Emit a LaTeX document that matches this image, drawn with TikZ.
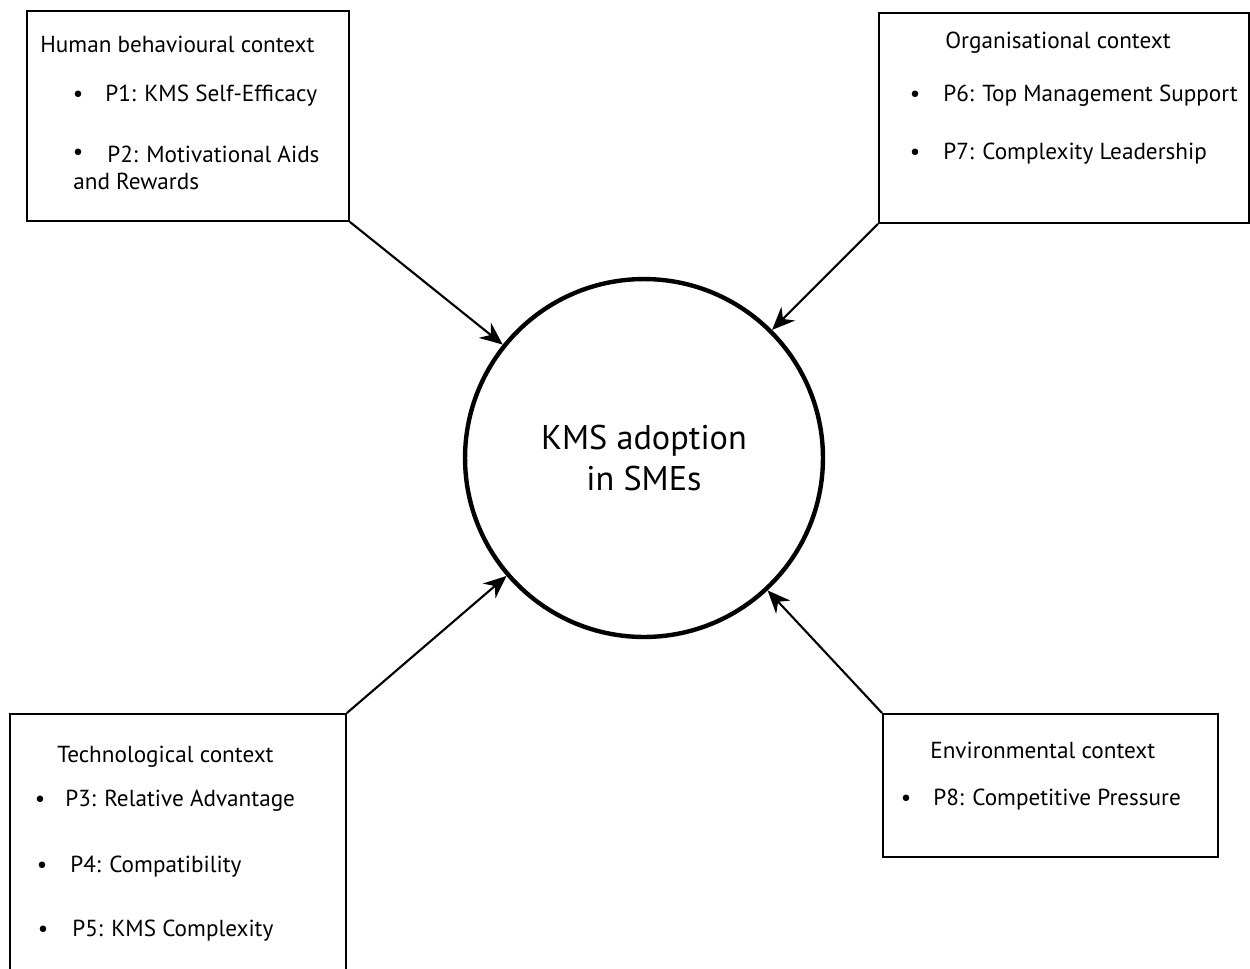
\documentclass[tikz,border=0pt]{standalone}
\usepackage{fontspec}
\setmainfont{PT Sans}
\usetikzlibrary{arrows.meta, positioning}

\tikzset{
  ctxbox/.style={draw, line width=1.1pt, rectangle, inner sep=0pt, anchor=north west},
  ctxtext/.style={anchor=west, inner sep=0pt, font=\fontsize{13.2}{16}\selectfont},
  ctxbullet/.style={anchor=center, inner sep=0pt, font=\fontsize{13.2}{16}\selectfont},
  flow/.style={line width=1.2pt, -{Stealth[length=13pt, width=11pt]}}
}

\begin{document}
\begin{tikzpicture}[x=0.02cm, y=-0.02cm]
  \useasboundingbox (0,0) rectangle (1250,968);

  % adoption circle
  \node[draw, circle, line width=2.5pt, minimum size=7.16cm, inner sep=0pt,
        align=center, font=\fontsize{19.5}{23.5}\selectfont] (kms) at (644,458)
        {KMS adoption\\in SMEs};

  % context boxes
  \node[ctxbox, minimum width=6.44cm, minimum height=4.2cm] (human) at (26,10) {};
  \node[ctxbox, minimum width=7.4cm, minimum height=4.2cm] (org) at (878,12) {};
  \node[ctxbox, minimum width=6.72cm, minimum height=5.4cm] (tech) at (9,713) {};
  \node[ctxbox, minimum width=6.7cm, minimum height=2.86cm] (env) at (882,713) {};

  % human behavioural context
  \node[ctxtext] (humanT) at (40,44) {Human behavioural context};
  \node[ctxbullet] (humanB1) at (78,96) {•};
  \node[ctxtext] (humanP1) at (105,96) {P1: KMS Self-Efficacy};
  \node[ctxbullet] (humanB2) at (78,154) {•};
  \node[ctxtext] (humanP2) at (107,154) {P2: Motivational Aids};
  \node[ctxtext] (humanP2b) at (73,181) {and Rewards};

  % organisational context
  \node[ctxtext] (orgT) at (945,43) {Organisational context};
  \node[ctxbullet] (orgB6) at (915,96) {•};
  \node[ctxtext] (orgP6) at (943,96) {P6: Top Management Support};
  \node[ctxbullet] (orgB7) at (915,154) {•};
  \node[ctxtext] (orgP7) at (943,154) {P7: Complexity Leadership};

  % technological context
  \node[ctxtext] (techT) at (57,757) {Technological context};
  \node[ctxbullet] (techB3) at (40,801) {•};
  \node[ctxtext] (techP3) at (65,801) {P3: Relative Advantage};
  \node[ctxbullet] (techB4) at (42,867) {•};
  \node[ctxtext] (techP4) at (70,867) {P4: Compatibility};
  \node[ctxbullet] (techB5) at (43,931) {•};
  \node[ctxtext] (techP5) at (72,931) {P5: KMS Complexity};

  % environmental context
  \node[ctxtext] (envT) at (930,750) {Environmental context};
  \node[ctxbullet] (envB8) at (906,800) {•};
  \node[ctxtext] (envP8) at (933,800) {P8: Competitive Pressure};

  % influences
  \draw[flow] (human.south east) -- (kms);
  \draw[flow] (org.south west) -- (kms);
  \draw[flow] (tech.north east) -- (kms);
  \draw[flow] (env.north west) -- (kms);
\end{tikzpicture}
\end{document}
